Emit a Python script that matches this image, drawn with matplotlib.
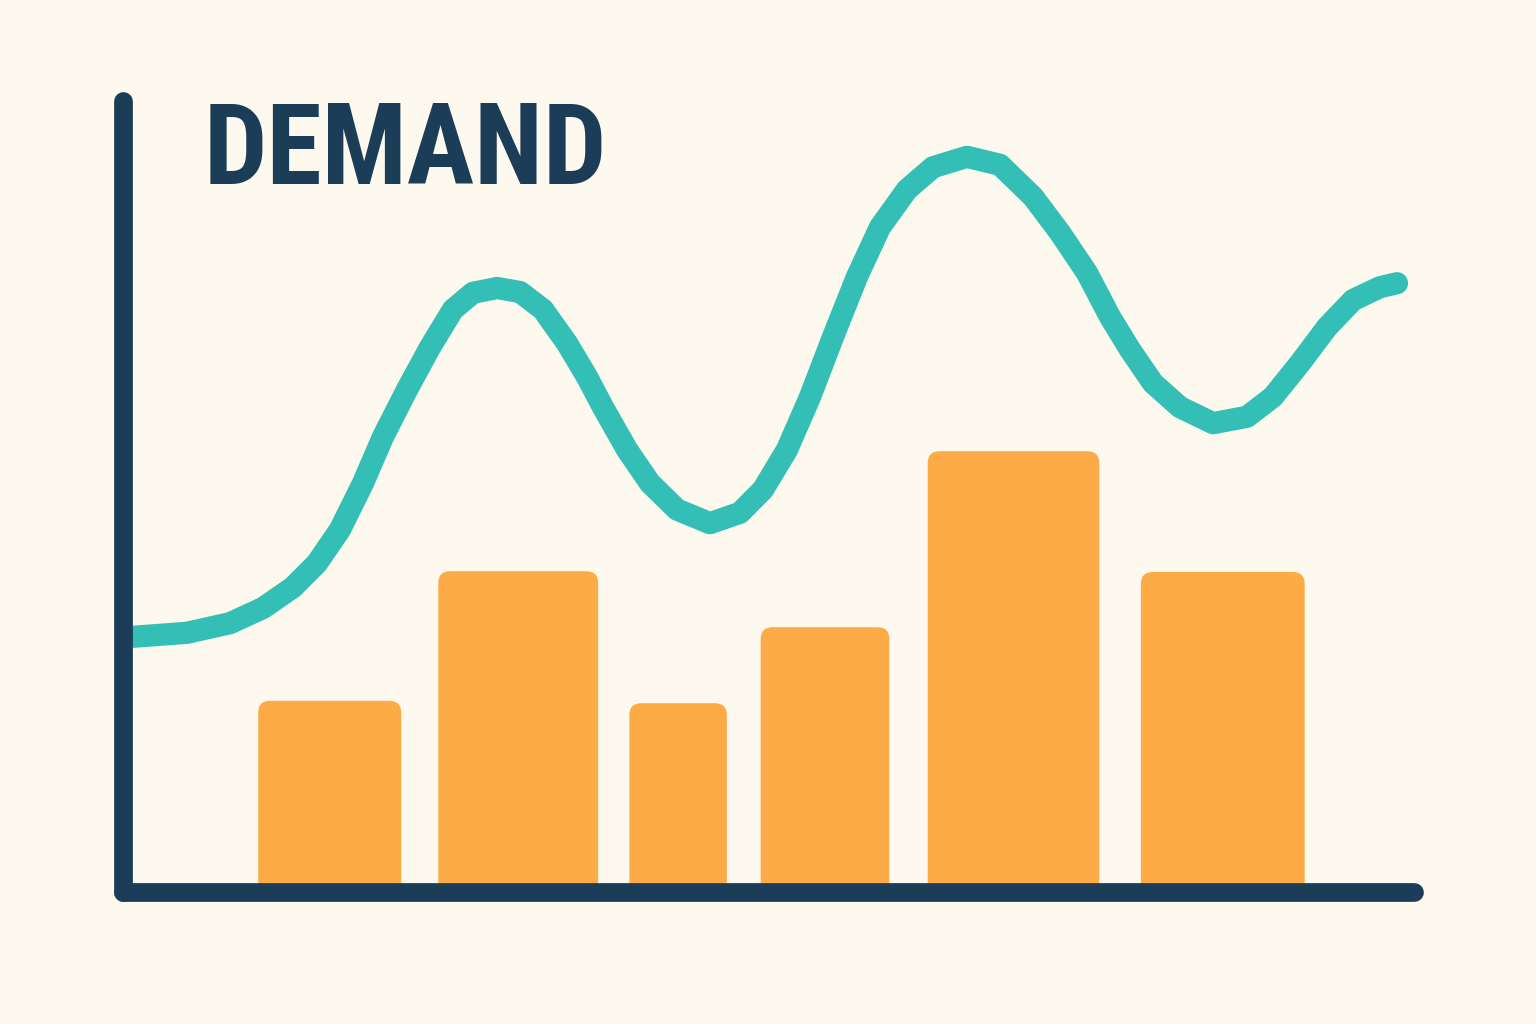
import matplotlib
matplotlib.use("Agg")
import matplotlib.pyplot as plt
from matplotlib.patches import FancyBboxPatch

BG = "#fef9ef"
NAVY = "#1c3d57"
TEAL = "#33bfb5"
ORANGE = "#fdab47"

# bars: center, width, height (value units)
bar_x = [15.9, 30.4, 42.7, 54.0, 68.5, 84.6]
bar_w = [11.0, 12.3, 7.5, 9.9, 13.2, 12.6]
bar_h = [23.9, 40.1, 23.6, 33.1, 55.1, 40.0]

# demand curve
line_x = [0.77, 4.92, 8.23, 10.77, 13.08, 14.92, 16.69, 18.46, 20.0, 21.85,
          23.62, 25.38, 26.92, 28.77, 30.54, 32.31, 34.15, 35.69, 36.92, 38.77,
          40.54, 42.62, 45.15, 47.46, 49.23, 51.08, 52.85, 54.62, 56.46, 58.23,
          60.31, 62.31, 64.92, 67.46, 70.0, 72.08, 74.15, 75.92, 77.46, 79.23,
          81.31, 83.85, 86.46, 88.46, 90.54, 92.62, 94.62, 96.69, 98.0]
line_y = [31.9, 32.4, 33.6, 35.5, 38.1, 41.1, 45.3, 51.1, 56.9, 62.8,
          68.1, 72.8, 74.9, 75.5, 75.0, 72.8, 68.6, 64.4, 60.6, 55.3,
          51.1, 47.8, 46.1, 47.4, 50.3, 55.3, 61.9, 69.4, 76.9, 83.1,
          87.8, 90.6, 91.9, 90.9, 86.9, 82.4, 77.4, 71.9, 67.8, 63.6,
          60.6, 58.6, 59.4, 61.9, 66.1, 70.6, 74.0, 75.6, 76.1]

title = "DEMAND"

fig = plt.figure(figsize=(15.36, 10.24), dpi=100, facecolor=BG)
ax = fig.add_axes([123 / 1536, 132 / 1024, 1300 / 1536, 800 / 1024])
ax.set_facecolor(BG)
ax.set_xlim(0, 100)
ax.set_ylim(0, 100)
ax.axis("off")

# rounded bars (aspect fix so corners are circular in pixels)
px_x, px_y = 13.0, 8.0
r = 12 / px_x
for cx, w, h in zip(bar_x, bar_w, bar_h):
    ax.add_patch(FancyBboxPatch((cx - w / 2, -0.6), w, h + 0.6,
                                boxstyle=f"round,pad=0,rounding_size={r}",
                                mutation_aspect=px_x / px_y,
                                fc=ORANGE, ec="none", zorder=2, clip_on=False))

ax.plot(line_x, line_y, color=TEAL, lw=16, solid_capstyle="round",
        solid_joinstyle="round", zorder=3, clip_on=False)

# axes drawn as thick rounded strokes
ax.plot([0, 0], [0, 98.9], color=NAVY, lw=13.5, solid_capstyle="round",
        zorder=4, clip_on=False)
ax.plot([0, 99.3], [0, 0], color=NAVY, lw=13.5, solid_capstyle="round",
        zorder=4, clip_on=False)

ax.text(6.2, 88.5, title, color=NAVY, fontsize=81, fontweight="bold",
        family=["Roboto Condensed", "Liberation Sans Narrow", "Roboto"],
        ha="left", va="baseline", zorder=5)

fig.savefig("out.png", dpi=100, facecolor=BG)
